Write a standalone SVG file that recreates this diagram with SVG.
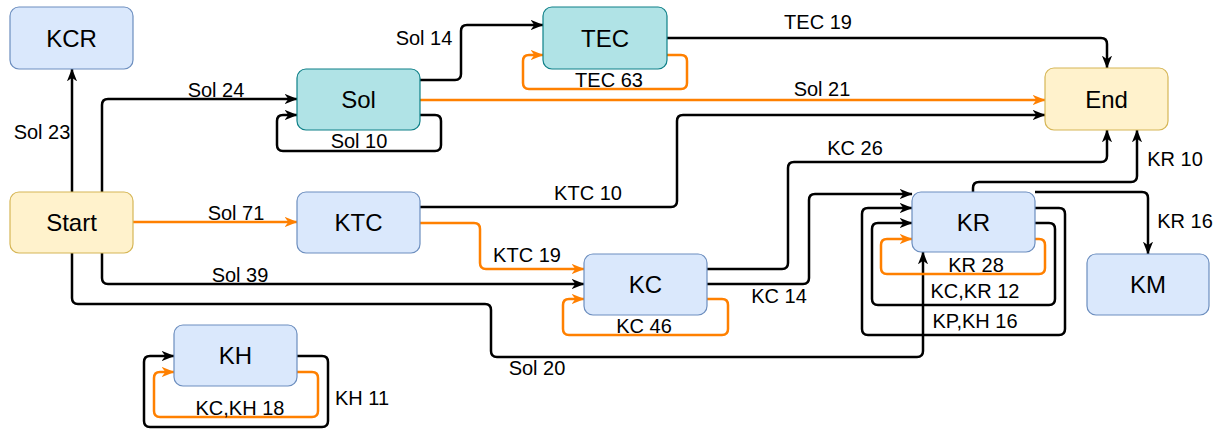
<svg xmlns="http://www.w3.org/2000/svg" width="1220" height="430" viewBox="0 0 1220 430">
<style>
.blue{fill:#dae8fc;stroke:#6c8ebf;stroke-width:1.2}
.teal{fill:#b0e3e6;stroke:#0e8088;stroke-width:1.2}
.yel{fill:#fff2cc;stroke:#d6b656;stroke-width:1.2}
.nt{font-family:"Liberation Sans",Arial,sans-serif;font-size:24px;fill:#000;text-anchor:middle}
.lb{font-family:"Liberation Sans",Arial,sans-serif;font-size:20px;fill:#000;text-anchor:middle}
.e{fill:none;stroke:#000;stroke-width:2.5;marker-end:url(#ab)}
.o{fill:none;stroke:#ff8000;stroke-width:2.5;marker-end:url(#ao)}
</style>
<defs>
<marker id="ab" viewBox="0 0 12 10" refX="11.5" refY="5" markerWidth="13" markerHeight="11" markerUnits="userSpaceOnUse" orient="auto"><path d="M0,0.3 L12,5 L0,9.7 L3.5,5 z" fill="#000"/></marker>
<marker id="ao" viewBox="0 0 12 10" refX="11.5" refY="5" markerWidth="13" markerHeight="11" markerUnits="userSpaceOnUse" orient="auto"><path d="M0,0.3 L12,5 L0,9.7 L3.5,5 z" fill="#ff8000"/></marker>
</defs>
<g id="connectors">
<path class="e" d="M72,192 L72,69"/>
<path class="e" d="M102,192 L102,105 Q102,99 108,99 L297,99"/>
<path class="o" d="M133,222 L297,222"/>
<path class="e" d="M102,253 L102,278 Q102,284 108,284 L584,284"/>
<path class="e" d="M72,253 L72,298 Q72,304 78,304 L485,304 Q491,304 491,310 L491,351 Q491,357 497,357 L917,357 Q923,357 923,351 L923,252"/>
<path class="e" d="M420,80 L455,80 Q461,80 461,74 L461,31 Q461,25 467,25 L543,25"/>
<path class="e" d="M420,115 L435,115 Q441,115 441,121 L441,145 Q441,151 435,151 L283,151 Q277,151 277,145 L277,121 Q277,115 283,115 L297,115"/>
<path class="o" d="M420,100 L1045,100"/>
<path class="o" d="M667,55 L681,55 Q687,55 687,61 L687,83 Q687,89 681,89 L529,89 Q523,89 523,83 L523,61 Q523,55 529,55 L543,55"/>
<path class="e" d="M667,38 L1101,38 Q1107,38 1107,44 L1107,68"/>
<path class="e" d="M420,207 L671,207 Q677,207 677,201 L677,121 Q677,115 683,115 L1045,115"/>
<path class="o" d="M420,223 L474,223 Q480,223 480,229 L480,263 Q480,269 486,269 L584,269"/>
<path class="e" d="M707,269 L782,269 Q788,269 788,263 L788,168 Q788,162 794,162 L1101,162 Q1107,162 1107,156 L1107,130"/>
<path class="e" d="M707,284 L803,284 Q809,284 809,278 L809,200 Q809,194 815,194 L912,194"/>
<path class="o" d="M707,299 L722,299 Q728,299 728,305 L728,329 Q728,335 722,335 L569,335 Q563,335 563,329 L563,305 Q563,299 569,299 L584,299"/>
<path class="e" d="M973,192 L973,188 Q973,182 979,182 L1131,182 Q1137,182 1137,176 L1137,130"/>
<path class="e" d="M1035,192 L1142,192 Q1148,192 1148,198 L1148,254"/>
<path class="o" d="M1035,239 L1039,239 Q1045,239 1045,245 L1045,268 Q1045,274 1039,274 L887,274 Q881,274 881,268 L881,245 Q881,239 887,239 L912,239"/>
<path class="e" d="M1035,223 L1049,223 Q1055,223 1055,229 L1055,299 Q1055,305 1049,305 L878,305 Q872,305 872,299 L872,229 Q872,223 878,223 L912,223"/>
<path class="e" d="M1035,208 L1059,208 Q1065,208 1065,214 L1065,329 Q1065,335 1059,335 L868,335 Q862,335 862,329 L862,214 Q862,208 868,208 L912,208"/>
<path class="e" d="M297,356 L322,356 Q328,356 328,362 L328,421 Q328,427 322,427 L150,427 Q144,427 144,421 L144,362 Q144,356 150,356 L174,356"/>
<path class="o" d="M297,372 L312,372 Q318,372 318,378 L318,411 Q318,417 312,417 L160,417 Q154,417 154,411 L154,378 Q154,372 160,372 L174,372"/>
<text class="lb" x="42" y="139">Sol 23</text>
<text class="lb" x="216" y="97">Sol 24</text>
<text class="lb" x="359" y="148">Sol 10</text>
<text class="lb" x="236" y="220">Sol 71</text>
<text class="lb" x="240" y="282">Sol 39</text>
<text class="lb" x="424" y="45">Sol 14</text>
<text class="lb" x="609" y="87">TEC 63</text>
<text class="lb" x="818" y="29">TEC 19</text>
<text class="lb" x="822" y="96">Sol 21</text>
<text class="lb" x="855" y="155">KC 26</text>
<text class="lb" x="1175" y="166">KR 10</text>
<text class="lb" x="1185" y="228">KR 16</text>
<text class="lb" x="588" y="200">KTC 10</text>
<text class="lb" x="527" y="262">KTC 19</text>
<text class="lb" x="779" y="303">KC 14</text>
<text class="lb" x="644" y="333">KC 46</text>
<text class="lb" x="537" y="375">Sol 20</text>
<text class="lb" x="976" y="272">KR 28</text>
<text class="lb" x="975" y="298">KC,KR 12</text>
<text class="lb" x="975" y="328">KP,KH 16</text>
<text class="lb" x="362" y="405">KH 11</text>
<text class="lb" x="240" y="415">KC,KH 18</text>
</g>
<g id="KCR"><rect class="blue" x="10" y="7" width="123" height="62" rx="9"/><text class="nt" x="71.5" y="46.6">KCR</text></g>
<g id="Start"><rect class="yel" x="10" y="192" width="123" height="61" rx="9"/><text class="nt" x="71.5" y="231">Start</text></g>
<g id="Sol"><rect class="teal" x="297" y="69" width="123" height="61" rx="9"/><text class="nt" x="358.5" y="108">Sol</text></g>
<g id="KTC"><rect class="blue" x="297" y="192" width="123" height="61" rx="9"/><text class="nt" x="358.5" y="231">KTC</text></g>
<g id="TEC"><rect class="teal" x="543" y="7" width="124" height="62" rx="9"/><text class="nt" x="605" y="46.6">TEC</text></g>
<g id="End"><rect class="yel" x="1045" y="68" width="123" height="62" rx="9"/><text class="nt" x="1106.5" y="107.6">End</text></g>
<g id="KC"><rect class="blue" x="584" y="254" width="123" height="61" rx="9"/><text class="nt" x="645.5" y="293">KC</text></g>
<g id="KR"><rect class="blue" x="912" y="192" width="123" height="60" rx="9"/><text class="nt" x="973.5" y="230.6">KR</text></g>
<g id="KM"><rect class="blue" x="1087" y="254" width="122" height="61" rx="9"/><text class="nt" x="1148" y="293">KM</text></g>
<g id="KH"><rect class="blue" x="174" y="325" width="123" height="61" rx="9"/><text class="nt" x="235.5" y="364">KH</text></g>
</svg>
